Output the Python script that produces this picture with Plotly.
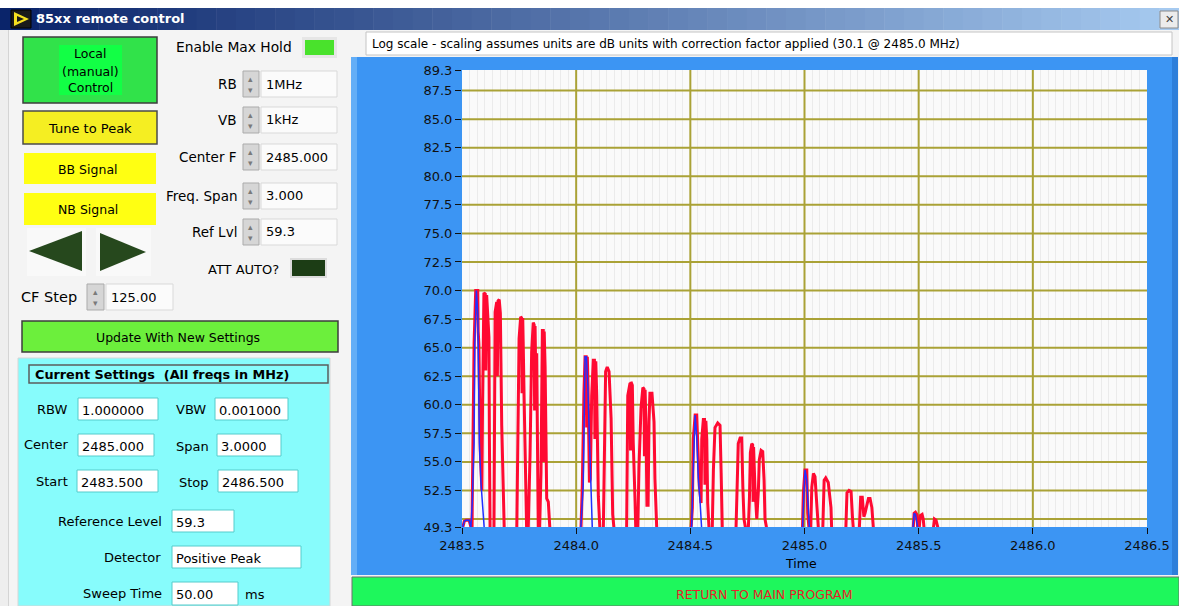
import plotly.graph_objects as go

# ---------------- data ----------------
red_freq = [2483.500, 2483.504, 2483.510, 2483.518, 2483.531, 2483.539, 2483.544,
            2483.545, 2483.553, 2483.560, 2483.569, 2483.571, 2483.574, 2483.580, 2483.583, 2483.587,
            2483.590, 2483.593, 2483.596, 2483.602, 2483.604, 2483.608, 2483.613, 2483.618, 2483.620, 2483.623, 2483.633,
            2483.640, 2483.645, 2483.652, 2483.655, 2483.658, 2483.663, 2483.668, 2483.674, 2483.678, 2483.681, 2483.685,
            2483.690, 2483.735,
            2483.740, 2483.744, 2483.750, 2483.757, 2483.761, 2483.763, 2483.766, 2483.768, 2483.772, 2483.775, 2483.779, 2483.783,
            2483.790, 2483.798, 2483.805, 2483.812, 2483.816, 2483.818, 2483.820, 2483.824, 2483.827, 2483.830, 2483.834,
            2483.840, 2483.846, 2483.852, 2483.856, 2483.858, 2483.860, 2483.864, 2483.868, 2483.871, 2483.878, 2483.885,
            2483.890, 2484.018,
            2484.021, 2484.027, 2484.034, 2484.039, 2484.044, 2484.046, 2484.049, 2484.052, 2484.058, 2484.062, 2484.068,
            2484.075, 2484.080, 2484.082, 2484.086, 2484.090, 2484.097, 2484.104,
            2484.119, 2484.123, 2484.129, 2484.136, 2484.144, 2484.153, 2484.160, 2484.166,
            2484.221, 2484.226, 2484.233, 2484.236, 2484.238, 2484.240, 2484.246, 2484.250, 2484.258, 2484.261,
            2484.270, 2484.275, 2484.284, 2484.292, 2484.297, 2484.299, 2484.302, 2484.306, 2484.310, 2484.315, 2484.319,
            2484.323, 2484.332, 2484.341, 2484.345, 2484.353,
            2484.360, 2484.500,
            2484.503, 2484.509, 2484.513, 2484.521, 2484.528, 2484.532, 2484.539, 2484.547, 2484.550,
            2484.557, 2484.562, 2484.564, 2484.568, 2484.572, 2484.576, 2484.582,
            2484.596, 2484.601, 2484.608, 2484.620, 2484.630, 2484.635, 2484.638, 2484.640,
            2484.700, 2484.705, 2484.710, 2484.718, 2484.725, 2484.730, 2484.735, 2484.743,
            2484.754, 2484.759, 2484.763, 2484.769, 2484.773, 2484.775, 2484.777, 2484.783, 2484.791, 2484.798, 2484.802,
            2484.810, 2484.817, 2484.823, 2484.827, 2484.835,
            2484.840, 2484.988,
            2484.991, 2484.995, 2485.002, 2485.010, 2485.014, 2485.020,
            2485.027, 2485.032, 2485.039, 2485.046, 2485.054, 2485.061,
            2485.080, 2485.086, 2485.093, 2485.104, 2485.116, 2485.119,
            2485.181, 2485.186, 2485.195, 2485.204, 2485.210, 2485.214,
            2485.240, 2485.246, 2485.253, 2485.260, 2485.265, 2485.273, 2485.280, 2485.287, 2485.295, 2485.302,
            2485.310, 2485.474,
            2485.476, 2485.480, 2485.486, 2485.492, 2485.496, 2485.502, 2485.507, 2485.515, 2485.520, 2485.524,
            2485.564, 2485.569, 2485.576, 2485.586,
            2485.590, 2486.500]
red_level = [49.0, 49.3, 49.8, 49.9, 49.9, 49.3, 49.0,
             51.5, 65.4, 70.0, 70.0, 66.4, 65.3, 56.0, 53.6, 52.5,
             60.0, 65.3, 69.8, 69.7, 63.0, 69.6, 67.7, 65.9, 57.0, 49.1, 49.1,
             49.1, 68.1, 69.0, 62.5, 69.1, 69.2, 68.0, 58.2, 55.0, 52.1, 49.1,
             49.0, 49.0,
             49.1, 57.1, 65.8, 67.7, 67.6, 61.0, 67.6, 65.5, 60.6, 58.0, 53.2, 49.1,
             49.1, 55.6, 64.6, 67.2, 67.0, 59.5, 66.9, 61.2, 64.5, 52.9, 49.1,
             49.1, 54.1, 66.5, 66.5, 55.0, 66.4, 63.3, 57.5, 51.8, 51.5, 49.1,
             49.0, 49.0,
             49.1, 53.0, 61.0, 64.2, 64.2, 58.0, 64.2, 61.7, 53.2, 53.5, 60.8,
             63.9, 63.9, 57.0, 63.8, 60.8, 52.0, 49.1,
             49.1, 57.3, 62.9, 63.3, 62.9, 58.8, 50.4, 49.1,
             49.1, 60.8, 61.5, 61.9, 56.0, 62.0, 61.7, 56.7, 51.5, 49.1,
             49.1, 54.5, 59.7, 61.5, 61.4, 55.5, 61.3, 57.8, 51.2, 51.2, 58.5,
             61.0, 61.0, 58.5, 53.5, 49.1,
             49.0, 49.0,
             49.1, 51.0, 57.0, 59.1, 59.1, 57.0, 53.0, 51.4, 57.0,
             58.7, 58.7, 53.0, 58.6, 57.0, 51.4, 49.1,
             49.1, 54.3, 58.0, 58.4, 58.2, 54.0, 52.1, 49.1,
             49.1, 52.3, 56.6, 57.1, 57.1, 52.8, 50.0, 49.1,
             49.1, 51.9, 55.8, 56.6, 56.5, 51.5, 56.3, 52.8, 50.0, 52.5, 55.2,
             56.0, 55.9, 53.4, 50.0, 49.1,
             49.0, 49.0,
             49.1, 52.3, 54.3, 54.3, 50.5, 49.1,
             49.1, 52.8, 54.0, 53.7, 51.4, 49.1,
             49.1, 53.4, 53.6, 53.2, 51.0, 49.1,
             49.1, 52.3, 52.5, 52.4, 50.2, 49.1,
             49.1, 51.9, 51.9, 50.2, 50.5, 51.2, 51.8, 51.8, 51.0, 49.1,
             49.0, 49.0,
             49.1, 50.5, 50.6, 50.4, 49.1, 49.1, 50.3, 50.4, 50.0, 49.1,
             49.1, 50.0, 49.9, 49.1,
             49.0, 49.0]

blue_freq = [2483.500, 2483.504, 2483.510, 2483.518, 2483.531, 2483.539, 2483.545, 2483.553,
             2483.556, 2483.563, 2483.569, 2483.571, 2483.576, 2483.583, 2483.589, 2483.593, 2483.598,
             2484.018, 2484.021, 2484.031, 2484.039, 2484.045, 2484.051, 2484.058, 2484.065, 2484.071,
             2484.503, 2484.506, 2484.513, 2484.521, 2484.528, 2484.535, 2484.543, 2484.550,
             2484.991, 2484.998, 2485.002, 2485.010, 2485.017, 2485.022,
             2485.474, 2485.480, 2485.486, 2485.494, 2485.498, 2486.500]
blue_level = [49.0, 49.3, 49.8, 49.9, 49.9, 49.3, 51.5, 56.7,
              65.2, 70.0, 68.1, 65.2, 56.7, 53.2, 51.5, 50.0, 49.0,
              49.0, 49.5, 53.0, 64.2, 64.2, 61.7, 57.1, 51.5, 49.0,
              49.0, 49.5, 54.3, 59.1, 57.2, 53.6, 51.4, 49.0,
              49.0, 52.8, 54.3, 53.4, 49.9, 49.0,
              49.0, 50.5, 50.4, 49.6, 49.0, 49.0]

y_tickvals = [49.3, 52.5, 55.0, 57.5, 60.0, 62.5, 65.0, 67.5, 70.0, 72.5, 75.0, 77.5, 80.0, 82.5, 85.0, 87.5, 89.3]
y_ticktext = ["49.3", "52.5", "55.0", "57.5", "60.0", "62.5", "65.0", "67.5", "70.0", "72.5",
              "75.0", "77.5", "80.0", "82.5", "85.0", "87.5", "89.3"]
x_tickvals = [2483.5, 2484.0, 2484.5, 2485.0, 2485.5, 2486.0, 2486.5]
x_ticktext = ["2483.5", "2484.0", "2484.5", "2485.0", "2485.5", "2486.0", "2486.5"]
h_grid = [50.0, 52.5, 55.0, 57.5, 60.0, 62.5, 65.0, 67.5, 70.0, 72.5, 75.0, 77.5, 80.0, 82.5, 85.0, 87.5]
v_grid = [2484.0, 2484.5, 2485.0, 2485.5, 2486.0]

# ---------------- helpers ----------------
W, H = 1179, 606
FONT = "DejaVu Sans"


def X(p):
    return p / W


def Y(p):
    return 1 - p / H


shapes = []
annotations = []


def rect(x0, y0, x1, y1, fill, line=None, lw=1, layer="below"):
    shapes.append(dict(type="rect", xref="paper", yref="paper",
                       x0=X(x0), x1=X(x1), y0=Y(y1), y1=Y(y0),
                       fillcolor=fill,
                       line=dict(color=line if line else fill, width=lw if line else 0),
                       layer=layer))


def poly(pts, fill):
    d = "M " + " L ".join(f"{X(a):.5f},{Y(b):.5f}" for a, b in pts) + " Z"
    shapes.append(dict(type="path", xref="paper", yref="paper", path=d,
                       fillcolor=fill, line=dict(width=0), layer="below"))


def txt(x, y, s, size=13, color="#000000", anchor="left", bold=False):
    annotations.append(dict(xref="paper", yref="paper", x=X(x), y=Y(y),
                            text=f"<b>{s}</b>" if bold else s, showarrow=False,
                            xanchor=anchor, yanchor="middle", borderpad=0,
                            font=dict(family=FONT, size=size, color=color)))


def spinner(x0, y0, x1, y1):
    rect(x0, y0, x1, y1, "#d6d6d6", "#ababab", 1)
    txt((x0 + x1) / 2, y0 + (y1 - y0) * 0.3, "▴", 9, "#7a7a7a", "center")
    txt((x0 + x1) / 2, y0 + (y1 - y0) * 0.72, "▾", 9, "#7a7a7a", "center")


def field(x0, y0, x1, y1, s, size=13):
    rect(x0, y0, x1, y1, "#fbfbfb", "#d9d9d9", 1)
    txt(x0 + 4, (y0 + y1) / 2, s, size)


def cfield(x0, y0, x1, y1, s):
    rect(x0, y0, x1, y1, "#ffffff", "#55cccc", 1)
    txt(x0 + 3, (y0 + y1) / 2 + 1, s, 13)


# ---------------- window chrome ----------------
rect(0, 0, W, 8, "#ffffff")
steps = 60
c0, c1 = (10, 36, 106), (166, 202, 240)
for i in range(steps):
    t = i / (steps - 1)
    col = "rgb(%d,%d,%d)" % tuple(int(c0[k] + (c1[k] - c0[k]) * t) for k in range(3))
    rect(W * i / steps, 8, W * (i + 1) / steps + 0.5, 30, col)
rect(11, 10, 31, 28, "#1a1a1a", "#000000", 1)
poly([(14, 12), (29, 19), (14, 26)], "#f5e020")
poly([(17, 16), (24, 19), (17, 22)], "#1a1a1a")
txt(35, 19, "85xx remote control", 13, "#ffffff", bold=True)
rect(1160, 11, 1178, 28, "#ececec", "#8a8a8a", 1)
txt(1169, 19.5, "✕", 11, "#404040", "center")
rect(0, 30, 9, H, "#eeeeee")
rect(8, 30, 9, H, "#d4d4d4")

# ---------------- left panel ----------------
rect(23, 37, 157, 103, "#31e24a", "#3c3c3c", 1.5)
rect(59, 45, 122, 95, "#12ff45")
txt(90, 54, "Local", 12.5, anchor="center")
txt(90, 71, "(manual)", 12.5, anchor="center")
txt(90, 87, "Control", 12.5, anchor="center")
rect(23, 111, 157, 144, "#f5ee22", "#4a4a4a", 1.5)
txt(90, 128, "Tune to Peak", 13, anchor="center")
rect(24, 153, 156, 184, "#ffff12")
txt(88, 170, "BB Signal", 12.5, anchor="center")
rect(24, 193, 156, 225, "#ffff12")
txt(88, 209, "NB Signal", 12.5, anchor="center")
rect(27, 228, 86, 276, "#f9f9f9")
rect(96, 228, 151, 276, "#f9f9f9")
poly([(29, 251), (82, 231), (82, 271)], "#26481d")
poly([(100, 233), (146, 252), (100, 271)], "#26481d")
txt(20, 297, "CF Step", 14.5)
spinner(87, 284, 104, 310)
field(106, 284, 173, 310, "125.00")

txt(293, 47, "Enable Max Hold", 13.8, anchor="right")
rect(302, 37, 337, 58, "#e6e6e6")
rect(305, 40, 334, 55, "#49e22c")
rows = [(84, "RB", "1MHz"), (120, "VB", "1kHz"), (157, "Center F", "2485.000"),
        (196, "Freq. Span", "3.000"), (232, "Ref Lvl", "59.3")]
for yc, lab, val in rows:
    txt(238, yc, lab, 13.5, anchor="right")
    spinner(243, yc - 13, 259, yc + 13)
    field(261, yc - 13, 337, yc + 13, val)
txt(280, 269, "ATT AUTO?", 13, anchor="right")
rect(290, 258, 327, 278, "#dcdcdc")
rect(292, 260, 325, 276, "#1c3d15")

rect(22, 321, 338, 352, "#6cef3c", "#3c3c3c", 1.5)
txt(178, 337, "Update With New Settings", 12.5, anchor="center")

rect(18, 358, 330, H, "#87fcfc", "#d6d6d6", 1)
rect(29, 365, 328, 383, "#87fcfc", "#5c5c5c", 1.5)
txt(34, 374, "Current Settings  (All freqs in MHz)", 12.8, bold=True)
txt(36, 409, "RBW", 13)
cfield(78, 398, 158, 420, "1.000000")
txt(175, 409, "VBW", 13)
cfield(215, 398, 288, 420, "0.001000")
txt(23, 445, "Center", 13)
cfield(78, 434, 154, 456, "2485.000")
txt(175, 446, "Span", 13)
cfield(217, 434, 281, 456, "3.0000")
txt(35, 481, "Start", 13)
cfield(77, 470, 158, 492, "2483.500")
txt(178, 482, "Stop", 13)
cfield(218, 470, 298, 492, "2486.500")
txt(163, 521, "Reference Level", 13, anchor="right")
cfield(172, 510, 234, 532, "59.3")
txt(162, 557, "Detector", 13, anchor="right")
cfield(172, 546, 301, 568, "Positive Peak")
txt(163, 593, "Sweep Time", 13, anchor="right")
cfield(172, 582, 238, 605, "50.00")
txt(244, 594, "ms", 13)

# ---------------- chart frame ----------------
rect(351, 57, 1178, 575, "#3c95f3")
rect(351, 57, 357, 575, "#63aef7")
rect(1172, 57, 1178, 575, "#2e7fda")
rect(462, 70, 1147, 527, "#fafafa")
rect(366, 32, 1172, 55, "#ffffff", "#c4c4c4", 1)
txt(371, 44, "Log scale - scaling assumes units are dB units with correction factor applied (30.1 @ 2485.0 MHz)", 12)
txt(801, 563, "Time", 12.5, anchor="center")
rect(352, 577, 1179, 606, "#1ef75c", "#6e6e6e", 1)
txt(764, 594, "RETURN TO MAIN PROGRAM", 12.5, "#e8202a", "center")

# grid (olive)
OLIVE = "#aaa236"
for g in h_grid:
    shapes.append(dict(type="line", xref="x", yref="y", x0=2483.5, x1=2486.5, y0=g, y1=g,
                       line=dict(color=OLIVE, width=2), layer="between"))
for g in v_grid:
    shapes.append(dict(type="line", xref="x", yref="y", x0=g, x1=g, y0=49.3, y1=89.3,
                       line=dict(color=OLIVE, width=2), layer="between"))

# ---------------- traces ----------------
fig = go.Figure()
fig.add_trace(go.Scatter(x=red_freq, y=red_level, mode="lines",
                         line=dict(color="#ff0a32", width=3), showlegend=False))
fig.add_trace(go.Scatter(x=blue_freq, y=blue_level, mode="lines",
                         line=dict(color="#2030ff", width=1.5), showlegend=False))

fig.update_layout(
    width=W, height=H, margin=dict(l=0, r=0, t=0, b=0, pad=0, autoexpand=False),
    paper_bgcolor="#f4f4f4", plot_bgcolor="#fafafa",
    shapes=shapes, annotations=annotations,
    xaxis=dict(domain=[X(462), X(1147)], range=[2483.5, 2486.5], automargin=False,
               tickvals=x_tickvals, ticktext=x_ticktext,
               ticks="outside", ticklen=6, tickcolor="#101010", tickwidth=1,
               showgrid=False, zeroline=False, showline=False,
               tickfont=dict(family=FONT, size=13, color="#101010"),
               minor=dict(tick0=2483.5, dtick=0.5 / 15, showgrid=True,
                          gridcolor="#ebebeb", gridwidth=1, ticks="")),
    yaxis=dict(domain=[Y(527), Y(70)], range=[49.3, 89.3], automargin=False,
               tickvals=y_tickvals, ticktext=y_ticktext,
               ticks="outside", ticklen=6, tickcolor="#101010", tickwidth=1,
               showgrid=False, zeroline=False, showline=False,
               tickfont=dict(family=FONT, size=13, color="#101010")),
)

fig.write_html("out.html")
